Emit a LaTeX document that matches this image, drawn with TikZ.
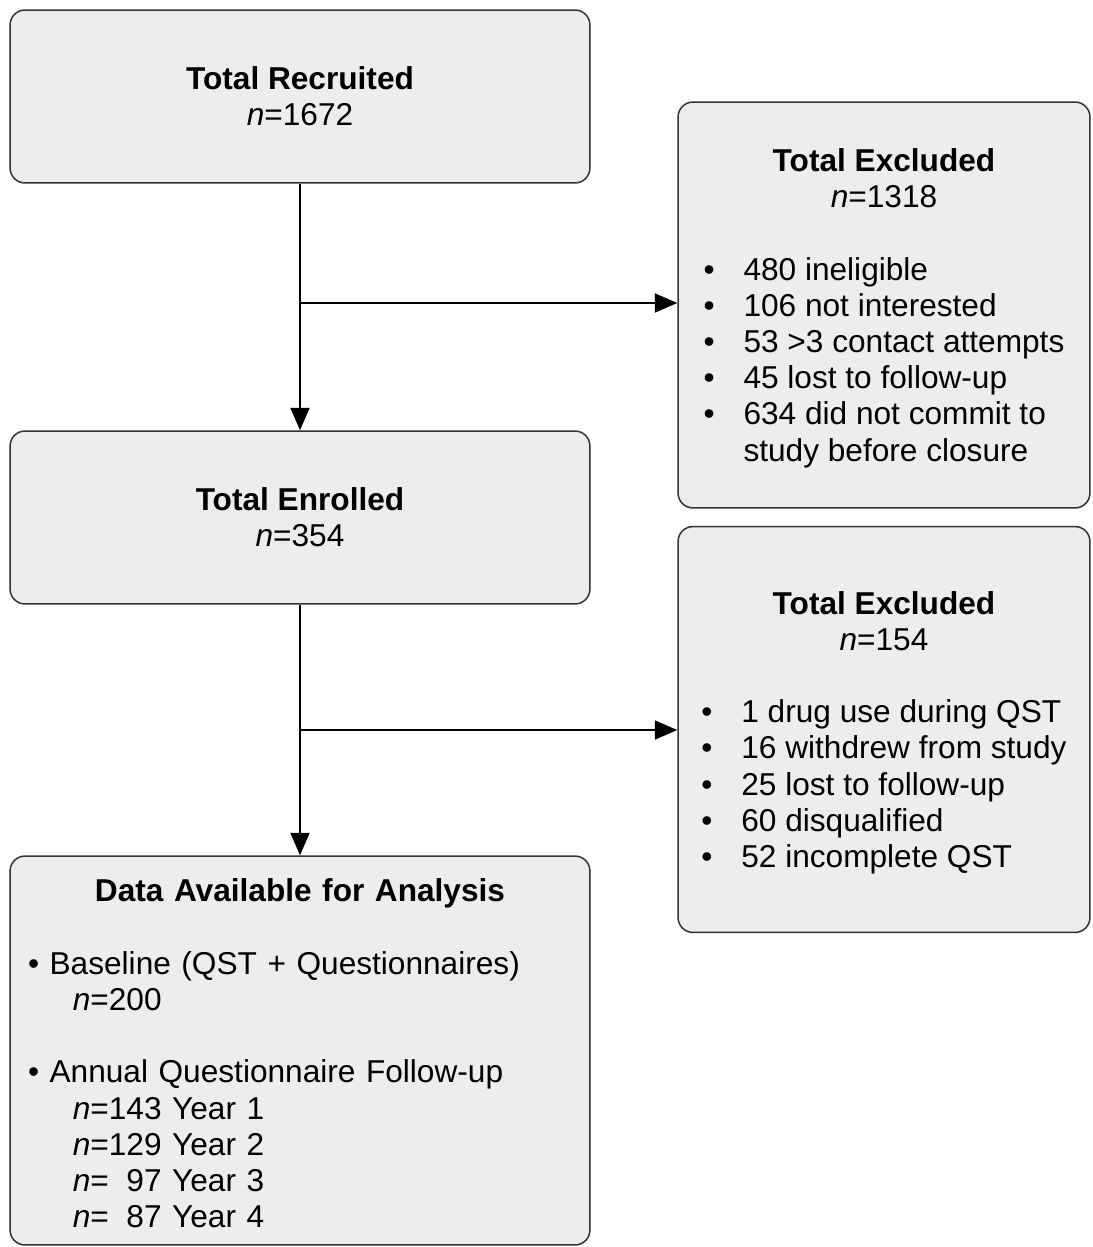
\documentclass[tikz,border=0pt]{standalone}
\usepackage{fontspec}
\setmainfont{Liberation Sans}
\usetikzlibrary{arrows.meta, positioning}
\definecolor{boxfill}{HTML}{EDEDED}
\definecolor{boxline}{HTML}{333333}

\begin{document}
\begin{tikzpicture}[x=0.02cm, y=-0.02cm]
	\tikzstyle{box} = [rectangle, rounded corners=0.3cm, draw=boxline, fill=boxfill, line width=0.85pt, inner sep=0pt, font=\fontsize{18}{20.6}\selectfont]
	\tikzstyle{wide} = [box, minimum width=11.6cm, minimum height=3.46cm, align=center]
	\tikzstyle{side} = [box, minimum width=8.24cm, minimum height=8.12cm, align=center]
	\tikzstyle{arrow} = [line width=1.1pt, -{Triangle[length=0.45cm, width=0.38cm]}]
	\newcommand{\itm}{\makebox[22.7pt][l]{\textbullet}}
	\useasboundingbox (0,0) rectangle (1092,1247);
	\node (recruited) [wide] at (300,96.5) {\textbf{Total Recruited}\\\textit{n}=1672};
	\node (enrolled) [wide] at (300,517.5) {\textbf{Total Enrolled}\\\textit{n}=354};
	\node (excludedA) [side] at (884,305) {\rule{0pt}{19pt}\textbf{Total Excluded}\\\textit{n}=1318\\[20.6pt]
		\begin{tabular}[t]{@{}l@{}}
			\itm 480 ineligible\\
			\itm 106 not interested\\
			\itm 53 >3 contact attempts\\
			\itm 45 lost to follow-up\\
			\itm 634 did not commit to\\
			\hspace*{22.7pt}study before closure
		\end{tabular}};
	\node (excludedB) [side] at (884,729.5) {\rule{0pt}{19pt}\textbf{Total Excluded}\\\textit{n}=154\\[20.6pt]
		\begin{tabular}[t]{@{}l@{}}
			\itm 1 drug use during QST\\
			\itm 16 withdrew from study\\
			\itm 25 lost to follow-up\\
			\itm 60 disqualified\\
			\itm 52 incomplete QST
		\end{tabular}};
	\node (data) [box, minimum width=11.6cm, minimum height=7.78cm, text width=10.88cm, align=left] at (300,1050.5) {\rule{0pt}{16.5pt}\makebox[10.88cm]{\textbf{Data Available for Analysis}}\\[20.6pt]
		\textbullet{} Baseline (QST + Questionnaires)\\
		\hspace*{25.5pt}\textit{n}=200\\[20.6pt]
		\textbullet{} Annual Questionnaire Follow-up\\
		\hspace*{25.5pt}\textit{n}=143 Year 1\\
		\hspace*{25.5pt}\textit{n}=129 Year 2\\
		\hspace*{25.5pt}\textit{n}=\phantom{1}97 Year 3\\
		\hspace*{25.5pt}\textit{n}=\phantom{1}87 Year 4};
	\coordinate (splitA) at (300,303);
	\coordinate (splitB) at (300,730);
	\draw [arrow] (recruited) -- (enrolled);
	\draw [arrow] (splitA) -- (splitA -| excludedA.west);
	\draw [arrow] (enrolled) -- (data);
	\draw [arrow] (splitB) -- (splitB -| excludedB.west);
\end{tikzpicture}
\end{document}
